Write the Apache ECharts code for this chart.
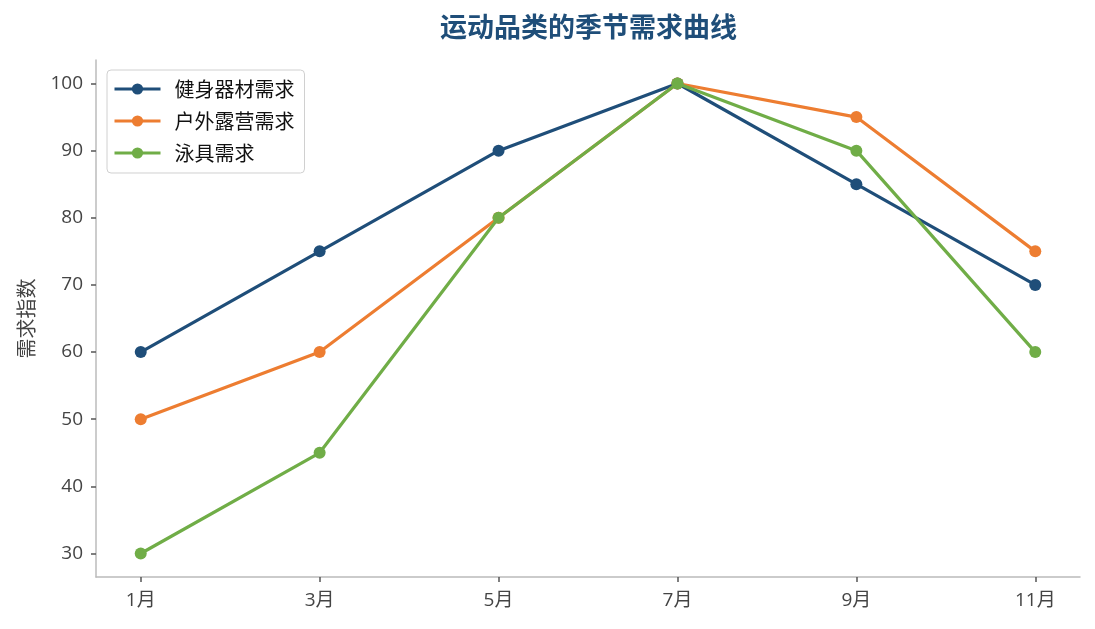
<!DOCTYPE html>
<html><head><meta charset="utf-8">
<script src="https://cdn.jsdelivr.net/npm/echarts@6/dist/echarts.min.js"></script>
<style>html,body{margin:0;padding:0;background:#fff}#c{width:1095px;height:629px}</style>
</head><body><div id="c"></div>
<script>
const categories = ['1月','3月','5月','7月','9月','11月'];
const fitness = [60, 75, 90, 100, 85, 70];
const outdoor = [50, 60, 80, 100, 95, 75];
const swim = [30, 45, 80, 100, 90, 60];
const yTicks = [30, 40, 50, 60, 70, 80, 90, 100];
const names = ['健身器材需求','户外露营需求','泳具需求'];
const colors = ['#1f4e79','#ed7d31','#70ad47'];
const font = '"Open Sans","Noto Sans CJK SC",sans-serif';
const cjk = '"Noto Sans CJK SC",sans-serif';
const chart = echarts.init(document.getElementById('c'));
const mk = (name, arr, color, z) => ({
  name, type:'line', data: arr.map((v,i)=>[i,v]), z,
  symbol:'circle', symbolSize:12,
  lineStyle:{color, width:3.2}, itemStyle:{color}
});
const idx = categories.map((_,i)=>i);
chart.setOption({
  animation:false,
  title:{text:'运动品类的季节需求曲线', left:435, top:8,
    textStyle:{fontFamily:cjk, fontSize:27, fontWeight:'bold', color:'#1f4e79'}},
  legend:{orient:'vertical', left:107, top:70, padding:[9,10,10,6],
    itemWidth:46, itemHeight:14, itemGap:12,
    borderColor:'#d0d0d0', borderWidth:1, borderRadius:4,
    lineStyle:{width:3},
    textStyle:{fontFamily:cjk, fontSize:20, color:'#111', padding:[0,0,0,9]},
    data:names},
  grid:{left:96, right:15, top:60, bottom:52},
  xAxis:{type:'value', min:-0.25, max:5.25,
    axisLine:{show:true, onZero:false, lineStyle:{color:'#bbb', width:1.5}},
    axisTick:{show:true, customValues:idx, length:5, lineStyle:{color:'#555', width:1.5}},
    axisLabel:{customValues:idx, formatter:v=>categories[Math.round(v)], fontFamily:font, fontSize:19, color:'#444', margin:14},
    splitLine:{show:false}},
  yAxis:{type:'value', min:26.5, max:103.5,
    name:'需求指数', nameLocation:'middle', nameGap:60, nameRotate:90,
    nameTextStyle:{fontFamily:cjk, fontSize:20, color:'#444'},
    axisLine:{show:true, onZero:false, lineStyle:{color:'#bbb', width:1.5}},
    axisTick:{show:true, customValues:yTicks, length:5, lineStyle:{color:'#555', width:1.5}},
    axisLabel:{customValues:yTicks, fontFamily:font, fontSize:19, color:'#444', margin:13},
    splitLine:{show:false}},
  series:[mk(names[0], fitness, colors[0], 3), mk(names[1], outdoor, colors[1], 4), mk(names[2], swim, colors[2], 5)]
});
</script></body></html>
